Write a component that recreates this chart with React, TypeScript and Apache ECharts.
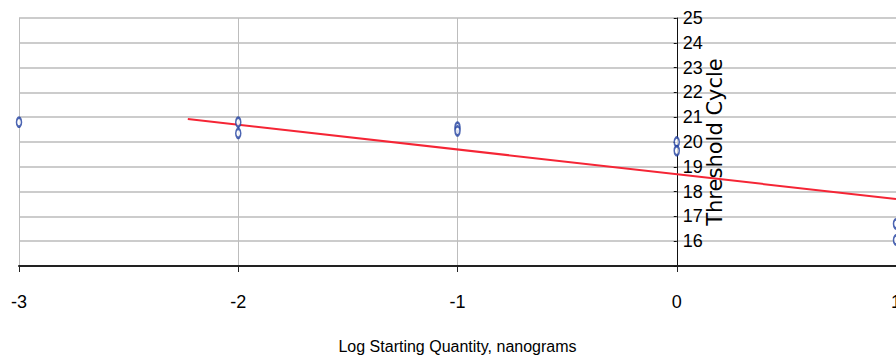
import React, { useEffect, useRef } from "react";
import * as echarts from "echarts";

const xTicks = [-3, -2, -1, 0, 1];
const yMin = 15;
const yMax = 25;
const pointsX = [-3, -2, -2, -1, -1, 0, 0, 1, 1];
const pointsY = [20.8, 20.8, 20.35, 20.6, 20.45, 20.0, 19.65, 16.7, 16.05];
const fitX = [-2.23, 1];
const fitY = [20.93, 17.7];

const SANS = "'Liberation Sans', Arial, sans-serif";
const GRID_LEFT = 19;
const GRID_RIGHT_PX = 896;

export default function App() {
  const ref = useRef<HTMLDivElement>(null);
  useEffect(() => {
    if (!ref.current) return;
    const chart = echarts.init(ref.current, null, { renderer: "svg" });
    // y axis sits at x = 0 on the value x axis
    const zeroOffset =
      ((0 - xTicks[0]) / (xTicks[xTicks.length - 1] - xTicks[0])) * (GRID_RIGHT_PX - GRID_LEFT);
    chart.setOption({
      animation: false,
      backgroundColor: "#ffffff",
      grid: {
        left: GRID_LEFT,
        right: 0,
        top: 18,
        bottom: 98,
        containLabel: false,
        outerBoundsMode: "none",
      },
      xAxis: {
        type: "value",
        min: xTicks[0],
        max: xTicks[xTicks.length - 1],
        interval: 1,
        name: "Log Starting Quantity, nanograms",
        nameLocation: "middle",
        nameGap: 72,
        nameTextStyle: { fontFamily: SANS, fontSize: 16, color: "#000" },
        axisLine: { onZero: false, lineStyle: { color: "#222", width: 2 } },
        axisTick: { show: true, length: 6, lineStyle: { color: "#222", width: 1 } },
        axisLabel: { margin: 27, fontFamily: SANS, fontSize: 18, color: "#000" },
        splitLine: { show: true, lineStyle: { color: "#bdbdbd", width: 1 } },
      },
      yAxis: {
        type: "value",
        min: yMin,
        max: yMax,
        interval: 1,
        position: "left",
        offset: -zeroOffset,
        name: "Threshold Cycle",
        nameLocation: "middle",
        nameRotate: 90,
        nameGap: -49,
        nameMoveOverlap: false,
        nameTextStyle: { fontFamily: "'DejaVu Sans', sans-serif", fontSize: 21, color: "#000" },
        axisLine: { show: true, onZero: false, lineStyle: { color: "#111", width: 1 } },
        axisTick: { show: true, length: 3, lineStyle: { color: "#111" } },
        axisLabel: {
          inside: true,
          margin: 6,
          fontFamily: SANS,
          fontSize: 18,
          color: "#000",
          formatter: (v: number) => (v === yMin ? "" : String(v)),
        },
        splitLine: { show: true, lineStyle: { color: "#cccccc", width: 2 } },
      },
      series: [
        {
          type: "line",
          data: fitX.map((x, i) => [x, fitY[i]]),
          symbol: "none",
          lineStyle: { color: "#f52535", width: 2 },
          z: 2,
        },
        {
          type: "scatter",
          data: pointsX.map((x, i) => [x, pointsY[i]]),
          symbol: "emptyCircle",
          symbolSize: [5, 9],
          itemStyle: { color: "#1f3f9f", borderColor: "#1f3f9f", borderWidth: 2 },
          z: 3,
        },
      ],
    });
    return () => chart.dispose();
  }, []);
  return (
    <div
      ref={ref}
      style={{ position: "absolute", left: 0, top: 0, width: 896, height: 364 }}
    />
  );
}
